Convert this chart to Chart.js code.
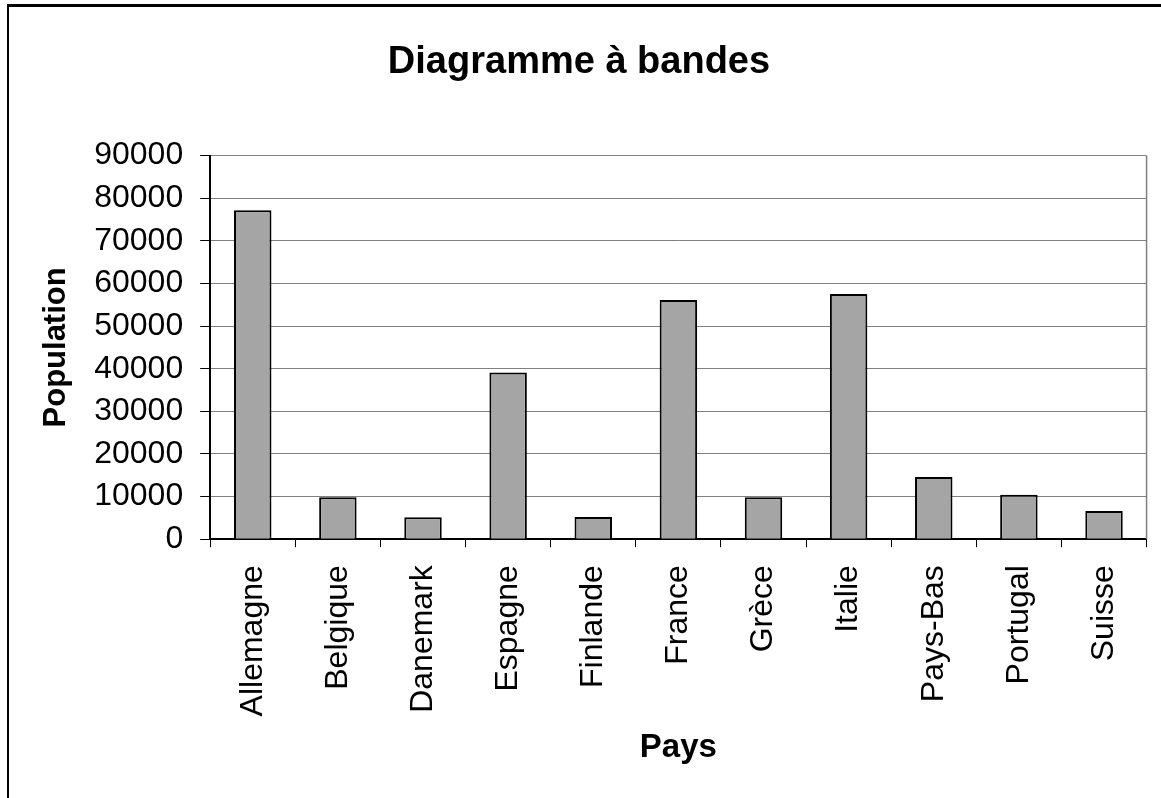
<!DOCTYPE html>
<html>
<head>
<meta charset="utf-8">
<script src="https://cdn.jsdelivr.net/npm/chart.js@4/dist/chart.umd.min.js"></script>
<style>
  body { margin: 0; background: #fff; }
  #frame { position: absolute; left: 7px; top: 4px; width: 1160px; height: 800px;
           border-left: 2px solid #000; border-top: 3px solid #000; }
  #chart { position: absolute; left: 0; top: 0; }
</style>
</head>
<body>
<div id="frame"></div>
<canvas id="chart" width="1161" height="798"></canvas>
<script>
// données
var Pays = ['Allemagne', 'Belgique', 'Danemark', 'Espagne', 'Finlande', 'France', 'Grèce', 'Italie', 'Pays-Bas', 'Portugal', 'Suisse']
var Population = [77200, 9850, 5150, 39100, 5200, 56100, 9850, 57500, 14600, 10400, 6600]
var Titre = 'Diagramme à bandes'
var TitreX = 'Pays'
var TitreY = 'Population'
var YMax = 90000
var YPas = 10000

window.onload = function(){
  const ctx = document.getElementById('chart')
  var police = "'Liberation Sans', Arial, sans-serif"

  // bord droit gris de la zone de tracé
  var cadre = {
    id: 'cadre',
    beforeDatasetsDraw: function(chart){
      var a = chart.chartArea
      var c = chart.ctx
      c.save()
      c.strokeStyle = '#808080'
      c.lineWidth = 1.5
      c.beginPath()
      c.moveTo(a.right, a.top)
      c.lineTo(a.right, a.bottom)
      c.stroke()
      c.restore()
    }
  }

  var ChartSet = {
    type: 'bar',
    data: {
      labels: Pays,
      datasets: [{
        label: TitreY,
        data: Population,
        backgroundColor: '#a5a5a5',
        borderColor: '#000',
        borderWidth: 2,
        barPercentage: 0.44,
        categoryPercentage: 1
      }]
    },
    options: {
      responsive: false,
      animation: false,
      layout: { padding: { left: 10, right: 13, top: 5, bottom: 12 } },
      plugins: {
        legend: { display: false },
        tooltip: { enabled: false },
        title: {
          display: true,
          text: Titre,
          color: '#000',
          font: { family: police, size: 38, weight: 'bold' },
          padding: { top: 35, bottom: 70 }
        }
      },
      scales: {
        x: {
          grid: { drawOnChartArea: false, drawTicks: true, tickLength: 8, tickColor: '#000', offset: true },
          border: { color: '#000', width: 2 },
          ticks: { color: '#000', font: { family: police, size: 32 }, minRotation: 90, maxRotation: 90, padding: 18, autoSkip: false },
          title: { display: true, text: TitreX, color: '#000', font: { family: police, size: 33, weight: 'bold' }, padding: { top: -6, bottom: 18 } }
        },
        y: {
          min: 0,
          max: YMax,
          grid: { color: '#808080', lineWidth: 1, tickLength: 10, tickColor: '#000' },
          border: { color: '#000', width: 2 },
          ticks: { stepSize: YPas, color: '#000', font: { family: police, size: 32 }, padding: 17,
                   callback: function(v){ return String(v) } },
          title: { display: true, text: TitreY, color: '#000', font: { family: police, size: 31, weight: 'bold' }, padding: { top: 28, bottom: 2 } }
        }
      }
    },
    plugins: [cadre]
  }
  var ReportChart = new Chart(ctx, ChartSet)
}
</script>
</body>
</html>
